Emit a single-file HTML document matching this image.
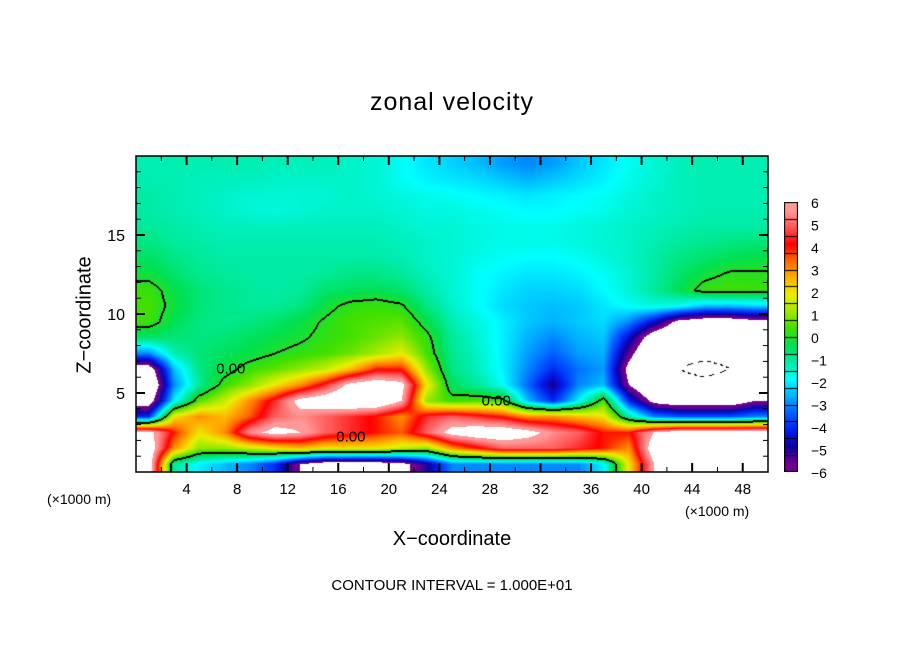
<!DOCTYPE html>
<html><head><meta charset="utf-8"><style>
body{margin:0;background:#fff;width:904px;height:654px;overflow:hidden;position:relative;font-family:"Liberation Sans",sans-serif;}
.t{position:absolute;white-space:nowrap;color:#000;}
canvas{position:absolute;}
</style></head><body>
<div class="t" style="left:0;width:904px;text-align:center;top:88px;font-size:25px;letter-spacing:1px">zonal velocity</div>
<canvas id="plot" width="632" height="316" style="left:136px;top:156px"></canvas>
<svg id="axes" width="904" height="654" style="position:absolute;left:0;top:0"></svg>
<canvas id="cbar" width="14" height="270" style="left:784px;top:202px"></canvas>
<div class="t" style="left:47px;top:491px;font-size:14px">(×1000 m)</div>
<div class="t" style="left:685px;top:503px;font-size:14px">(×1000 m)</div>
<div class="t" style="left:0;width:904px;text-align:center;top:528px;font-size:20px">X−coordinate</div>
<div class="t" style="left:85px;top:315px;font-size:20px;transform:translate(-50%,-50%) rotate(-90deg)">Z−coordinate</div>
<div class="t" style="left:0;width:904px;text-align:center;top:577px;font-size:15px">CONTOUR INTERVAL = 1.000E+01</div>
<script>
// grid: columns at x = 1,3,...,49 ; rows at z = 19.5 down to 0.5
const gridX=[1,3,5,7,9,11,13,15,17,19,21,23,25,27,29,31,33,35,37,39,41,43,45,47,49];
const gridZ=[19.5,18.5,17.5,16.5,15.5,14.5,13.5,12.5,11.5,10.5,9.5,8.5,7.5,6.5,5.5,4.5,3.5,2.5,1.5,0.5];
const field=[
[-1.2,-1.2,-1.2,-1.2,-1.2,-1.3,-1.3,-1.3,-1.4,-1.5,-1.8,-2.1,-2.3,-2.5,-2.8,-3,-2.8,-2.4,-2.1,-1.8,-1.5,-1.3,-1.2,-1.2,-1.2],
[-1.2,-1.2,-1.3,-1.3,-1.3,-1.4,-1.4,-1.4,-1.4,-1.5,-1.8,-2,-2.1,-2.2,-2.4,-2.6,-2.4,-2.2,-2,-1.7,-1.5,-1.3,-1.2,-1.2,-1.2],
[-1.1,-1.2,-1.3,-1.4,-1.5,-1.5,-1.5,-1.5,-1.4,-1.5,-1.6,-1.7,-1.8,-1.9,-2,-2.1,-2,-1.9,-1.8,-1.6,-1.4,-1.3,-1.2,-1.2,-1.2],
[-1.1,-1.2,-1.3,-1.4,-1.5,-1.6,-1.5,-1.4,-1.4,-1.4,-1.5,-1.6,-1.6,-1.7,-1.8,-1.9,-1.9,-1.8,-1.7,-1.5,-1.4,-1.3,-1.2,-1.2,-1.2],
[-1,-1.1,-1.2,-1.3,-1.3,-1.3,-1.3,-1.3,-1.3,-1.3,-1.4,-1.5,-1.5,-1.6,-1.7,-1.7,-1.7,-1.6,-1.5,-1.4,-1.3,-1.2,-1.1,-1.1,-1.1],
[-0.8,-1,-1.1,-1.2,-1.2,-1.2,-1.2,-1.2,-1.2,-1.2,-1.3,-1.4,-1.5,-1.6,-1.7,-1.7,-1.7,-1.6,-1.5,-1.4,-1.2,-1,-0.9,-0.8,-0.7],
[-0.5,-0.8,-1,-1.1,-1.1,-1.1,-1.1,-1.1,-1.1,-1.1,-1.2,-1.4,-1.5,-1.7,-1.8,-1.9,-1.9,-1.8,-1.6,-1.4,-1.1,-0.8,-0.6,-0.4,-0.3],
[-0.2,-0.6,-0.9,-1,-1.1,-1.1,-1.1,-1,-0.8,-0.8,-1,-1.3,-1.5,-1.8,-2,-2.1,-2.1,-2,-1.8,-1.5,-1.1,-0.6,-0.2,0.1,0.1],
[0.3,-0.3,-0.7,-0.9,-1,-1.1,-1,-0.6,-0.5,-0.4,-0.6,-1.1,-1.5,-1.8,-2.1,-2.3,-2.3,-2.2,-1.9,-1.5,-1,-0.4,0.3,0.4,0.3],
[0.4,-0.2,-0.7,-0.9,-1,-1,-0.8,-0.2,0.2,0.3,0.1,-0.8,-1.4,-1.8,-2.2,-2.4,-2.5,-2.4,-2.1,-1.8,-1.6,-1.8,-2.5,-2.5,-2.3],
[0.3,-0.4,-0.8,-0.9,-0.8,-0.6,-0.3,0.1,0.4,0.5,0.6,-0.3,-1.2,-1.6,-2,-2.4,-2.6,-2.4,-2.2,-3,-4.5,-6.5,-7,-7,-6.5],
[-0.6,-0.7,-0.8,-0.7,-0.5,-0.3,-0.1,0.2,0.4,0.7,1,0.2,-1,-1.5,-2,-2.6,-3,-2.6,-2.4,-4.5,-7,-8,-8,-8,-7.5],
[-3,-1.2,-0.7,-0.5,-0.3,0,0.2,0.4,0.7,1.2,1.8,0.4,-0.9,-1.4,-2,-2.8,-3.4,-2.8,-2.6,-5.5,-8,-9,-9,-9,-8],
[-7,-2.5,-0.8,-0.3,0.3,0.6,1,1.5,2.5,4,4,1,-0.8,-1.3,-2,-3,-4,-3.2,-2.8,-6.5,-8,-10,-11,-10,-8],
[-8,-3,-1,0.3,1,2,3,4.5,6.5,7,6.5,2,-0.5,-1,-1.8,-3.3,-5,-3,-2.5,-6,-8,-9,-9,-8.5,-7.5],
[-7,-2,0.5,1.5,3,4.5,6.5,7,7.5,7.5,6,1,0.3,0.5,0.3,-2.5,-4,-2,0.5,-4,-6.5,-7,-7,-7,-6],
[-4,2,3,2.5,3.5,5,5.5,5,4.5,4,3,4.5,5,4.5,4,3,3,2.5,2,-1,-3,-3.5,-3.5,-3.5,-3],
[6.5,4,2,3,5.5,6.5,6,5,4.5,4,3.5,5,6.5,7,7,6.5,5.5,5,4,4,6,7,7,7,7],
[7,3,1,1,1.5,2,2.5,2,2,2,1.5,1,3,4,5,5,5,4.5,4,3,7,8,8,8,7],
[7,-1,-2,-2.5,-3,-4,-6,-7,-7,-7,-6.5,-5,-3,-3,-3,-3,-3,-3,-2,2,6,7,7,7,6]
];
const cbLevels=[-6,-5,-4,-3,-2,-1,0,1,2,3,4,5,6];
const stops=["#700090","#1000a0","#0020f0","#0060ff","#00b0ff","#00ffff","#00eca8","#00e050","#40e000","#a0e800","#e8f000","#ffb000","#ff6a00","#ff0000","#ff5555","#ff9898"];
const rgb=stops.map(h=>[parseInt(h.substr(1,2),16),parseInt(h.substr(3,2),16),parseInt(h.substr(5,2),16)]);
function colorOf(v){
  if(v<-6||v>6) return [255,255,255];
  const t=(v+6)/0.75-0.5; const i=Math.max(0,Math.min(14,Math.floor(t))); const f=Math.max(0,Math.min(1,t-i));
  return [0,1,2].map(k=>Math.round(rgb[i][k]*(1-f)+rgb[i+1][k]*f));
}
const W=632,H=316,XMAX=50,ZMAX=20;
function sample(x,z){
  let fx=(x-gridX[0])/(gridX[1]-gridX[0]); let fz=(gridZ[0]-z)/(gridZ[0]-gridZ[1]);
  fx=Math.max(0,Math.min(gridX.length-1.0001,fx)); fz=Math.max(0,Math.min(gridZ.length-1.0001,fz));
  const i=Math.floor(fx),j=Math.floor(fz),a=fx-i,b=fz-j;
  return field[j][i]*(1-a)*(1-b)+field[j][i+1]*a*(1-b)+field[j+1][i]*(1-a)*b+field[j+1][i+1]*a*b;
}
const cv=document.getElementById('plot'),ctx=cv.getContext('2d');
const img=ctx.createImageData(W,H);
const vals=new Float32Array(W*H);
for(let py=0;py<H;py++)for(let px=0;px<W;px++){vals[py*W+px]=sample((px+0.5)/W*XMAX,ZMAX-(py+0.5)/H*ZMAX);}
for(let py=0;py<H;py++)for(let px=0;px<W;px++){
  const v=vals[py*W+px];let c=colorOf(v);
  const s=Math.sign(v);let edge=false;
  for(const[dx,dy] of [[1,0],[0,1],[-1,0],[0,-1]]){const qx=px+dx,qy=py+dy;if(qx<0||qy<0||qx>=W||qy>=H)continue;if(Math.sign(vals[qy*W+qx])!==s)edge=true;}
  for(const[dx,dy] of [[1,0],[0,1]]){const qx=px+dx,qy=py+dy;if(qx>=W||qy>=H)continue;const u=vals[qy*W+qx];if((v+10)*(u+10)<0&&((px+py)>>2)%2==0)edge=true;if((v-10)*(u-10)<0)edge=true;}
  if(edge)c=[0,0,0];
  const o=(py*W+px)*4;img.data[o]=c[0];img.data[o+1]=c[1];img.data[o+2]=c[2];img.data[o+3]=255;
}
ctx.putImageData(img,0,0);
// colorbar
const cb=document.getElementById('cbar'),cc=cb.getContext('2d');
for(let y=0;y<270;y++){const v=6-(y+0.5)/270*12;const c=colorOf(v);cc.fillStyle=`rgb(${c})`;cc.fillRect(0,y,14,1);}
for(let k=0;k<=16;k++){cc.fillStyle='#000';cc.fillRect(0,Math.round(k*270/16)-(k==16?1:0),14,1);}
cc.strokeRect(0.5,0.5,13,269);
// axes
const svg=document.getElementById('axes');const NS='http://www.w3.org/2000/svg';
const L=136,T=156,R=768,B=472;
const xs=x=>L+x/XMAX*(R-L), zs=z=>B-z/ZMAX*(B-T);
function add(tag,attrs,txt){const e=document.createElementNS(NS,tag);for(const k in attrs)e.setAttribute(k,attrs[k]);if(txt!==undefined)e.textContent=txt;svg.appendChild(e);return e;}
const frame=add('rect',{x:L,y:T,width:R-L,height:B-T,fill:'none',stroke:'#000','stroke-width':1.5});


const xTicks=[4,8,12,16,20,24,28,32,36,40,44,48];
const zTicks=[5,10,15];
for(let x=2;x<50;x+=2){const big=x%4==0;const len=big?9:5;
  add('line',{x1:xs(x),x2:xs(x),y1:B,y2:B-len,stroke:'#000','stroke-width':big?2:1});
  add('line',{x1:xs(x),x2:xs(x),y1:T,y2:T+len,stroke:'#000','stroke-width':big?2:1});}
for(let z=1;z<20;z++){const big=z%5==0;const len=big?9:5;
  add('line',{x1:L,x2:L+len,y1:zs(z),y2:zs(z),stroke:'#000','stroke-width':big?2:1});
  add('line',{x1:R,x2:R-len,y1:zs(z),y2:zs(z),stroke:'#000','stroke-width':big?2:1});}
xTicks.forEach(x=>{const t=add('text',{x:xs(x),y:494,'text-anchor':'middle','font-size':15,'font-family':'Liberation Sans'},String(x));
  
  });
zTicks.forEach(z=>{const t=add('text',{x:125,y:zs(z)+6,'text-anchor':'end','font-size':16,'font-family':'Liberation Sans'},String(z));
  
  });
cbLevels.forEach((v,i)=>{const t=add('text',{x:811,y:202+(6-v)/12*270+6,'font-size':14,'font-family':'Liberation Sans'},(v<0?'−':'')+Math.abs(v));
  
  });
const lblX=[7.5,28.5,17];const lblZ=[6.6,4.6,2.3];
lblX.forEach((x,i)=>{const t=add('text',{x:xs(x),y:zs(lblZ[i])+6,'text-anchor':'middle','font-size':15,'font-family':'Liberation Sans'},'0.00');
  
  });
</script>
</body></html>
